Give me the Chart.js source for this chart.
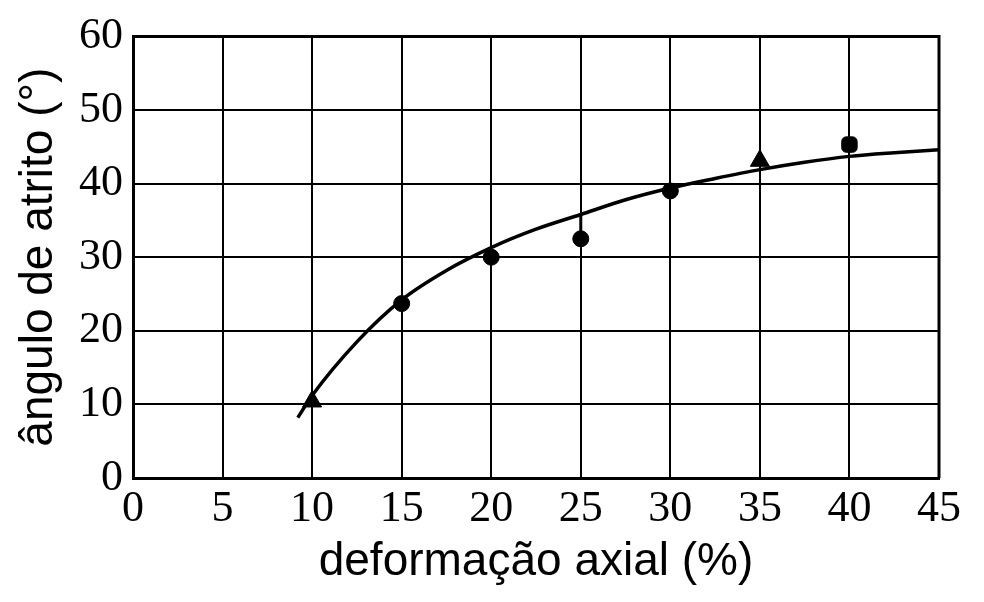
<!DOCTYPE html>
<html>
<head>
<meta charset="utf-8">
<script src="https://cdn.jsdelivr.net/npm/chart.js@4/dist/chart.umd.min.js"></script>
<style>
  html, body { margin: 0; padding: 0; background: #fff; }
  #wrap { width: 984px; height: 602px; }
</style>
</head>
<body>
<div id="wrap"><canvas id="chart"></canvas></div>
<script>
// measured points
const strainPts = [10, 15, 20, 25, 30, 35, 40]
const anglePts = [10.4, 23.7, 30, 32.5, 39, 43.1, 45.3]
const pointShapes = ['triangle', 'circle', 'circle', 'circle', 'circle', 'triangle', 'rectRounded']
const pointSizes = [11, 8, 8, 8, 8, 11, 9]

// fitted curve
const curveX = [9.2, 10, 12.5, 15, 17.5, 20, 22.5, 25, 27.5, 30, 32.5, 35, 37.5, 40, 42.5, 45]
const curveY = [8.2, 11.2, 18.5, 24.2, 28.2, 31.3, 33.8, 35.8, 37.8, 39.4, 40.7, 41.9, 42.9, 43.7, 44.2, 44.6]

// short vertical bar at 25 %
const barX = [25, 25]
const barY = [35.8, 32.5]

const xTicks = [0, 5, 10, 15, 20, 25, 30, 35, 40, 45]
const yTicks = [0, 10, 20, 30, 40, 50, 60]

const toXY = (xs, ys) => xs.map((x, i) => ({ x: x, y: ys[i] }))

new Chart(document.getElementById('chart'), {
  type: 'scatter',
  data: {
    datasets: [
      {
        data: toXY(curveX, curveY),
        showLine: true,
        borderColor: '#000',
        borderWidth: 3.5,
        pointRadius: 0,
        cubicInterpolationMode: 'monotone',
        fill: false,
      },
      {
        data: toXY(barX, barY),
        showLine: true,
        borderColor: '#000',
        borderWidth: 3,
        pointRadius: 0,
      },
      {
        data: toXY(strainPts, anglePts),
        pointStyle: pointShapes,
        pointRadius: pointSizes,
        backgroundColor: '#000',
        borderColor: '#000',
        borderWidth: 1,
      },
    ],
  },
  options: {
    responsive: true,
    maintainAspectRatio: false,
    animation: false,
    layout: { padding: { top: 33, right: 45, left: 0, bottom: 0 } },
    plugins: { legend: { display: false }, tooltip: { enabled: false } },
    scales: {
      x: {
        type: 'linear',
        min: 0,
        max: 45,
        afterBuildTicks: (s) => { s.ticks = xTicks.map(v => ({ value: v })) },
        afterFit: (s) => { s.height = 124 },
        grid: { color: '#000', lineWidth: 2, drawTicks: false },
        border: { color: '#000', width: 3 },
        ticks: {
          color: '#000',
          padding: 5,
          font: { family: '"Liberation Serif", "Times New Roman", serif', size: 44 },
        },
        title: {
          display: true,
          text: 'deformação axial (%)',
          color: '#000',
          font: { family: '"Liberation Sans", Arial, sans-serif', size: 46 },
          padding: { top: 0, bottom: 12 },
        },
      },
      y: {
        type: 'linear',
        min: 0,
        max: 60,
        afterBuildTicks: (s) => { s.ticks = yTicks.map(v => ({ value: v })) },
        afterFit: (s) => { s.width = 133 },
        grid: { color: '#000', lineWidth: 2, drawTicks: false },
        border: { color: '#000', width: 3 },
        ticks: {
          color: '#000',
          padding: 10,
          font: { family: '"Liberation Serif", "Times New Roman", serif', size: 44 },
        },
        title: {
          display: true,
          text: 'ângulo de atrito (°)',
          color: '#000',
          font: { family: '"Liberation Sans", Arial, sans-serif', size: 46 },
          padding: { top: 12, bottom: 0 },
        },
      },
    },
  },
  plugins: [{
    // right and top frame lines
    id: 'frame',
    afterDraw(chart) {
      const a = chart.chartArea
      const ctx = chart.ctx
      ctx.save()
      ctx.strokeStyle = '#000'
      ctx.lineWidth = 3
      ctx.beginPath()
      ctx.moveTo(a.left, a.top)
      ctx.lineTo(a.right, a.top)
      ctx.lineTo(a.right, a.bottom)
      ctx.stroke()
      ctx.restore()
    },
  }],
})
</script>
</body>
</html>
